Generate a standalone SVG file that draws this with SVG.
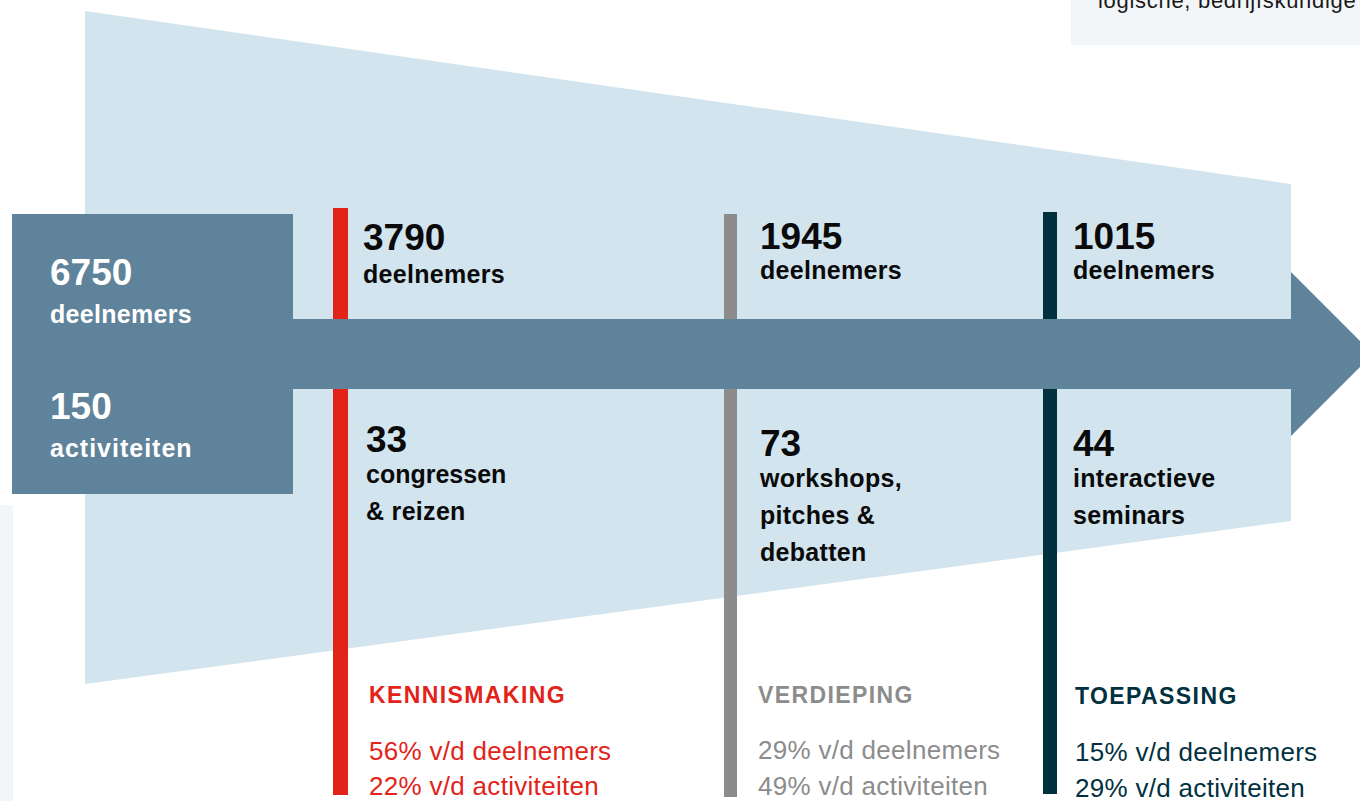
<svg xmlns="http://www.w3.org/2000/svg" width="1360" height="801" viewBox="0 0 1360 801">
<style>
text{font-family:"Liberation Sans",Arial,sans-serif}
.num{font-size:37px;font-weight:bold;fill:#0a0a0a}
.lbl{font-size:25px;font-weight:bold;fill:#0a0a0a;letter-spacing:0.3px}
.w{fill:#ffffff}
.ttl{font-size:23px;font-weight:bold;letter-spacing:1.4px}
.pct{font-size:26px;letter-spacing:0.3px}
.red{fill:#e2231a}
.gray{fill:#8c8c8c}
.dark{fill:#01313f}
</style>
<rect width="1360" height="801" fill="#ffffff"/>
<rect x="1071" y="0" width="289" height="45" fill="#f2f6f9"/>
<text x="1098" y="8" style="font-size:22px;fill:#1a1a1a;letter-spacing:0.7px">logische, bedrijfskundige</text>
<rect x="0" y="505" width="13" height="296" fill="#f2f6f9"/>
<polygon id="funnel" points="85,11 1291,184 1291,521 85,684" fill="#d2e4ee"/>

<g id="total">
<rect x="12" y="214" width="281" height="280" fill="#5f839b"/>
<text class="num w" x="50" y="285">6750</text>
<text class="lbl w" x="50" y="323">deelnemers</text>
<text class="num w" x="50" y="419">150</text>
<text class="lbl w" x="50" y="457" style="letter-spacing:1px">activiteiten</text>
</g>

<g id="kennismaking">
<rect x="333" y="208" width="15" height="587" class="red"/>
<text class="num" x="363" y="250">3790</text>
<text class="lbl" x="363" y="283">deelnemers</text>
<text class="num" x="366" y="452">33</text>
<text class="lbl" x="366" y="483" style="letter-spacing:0px">congressen</text>
<text class="lbl" x="366" y="520">&amp; reizen</text>
<text class="ttl red" x="369" y="703">KENNISMAKING</text>
<text class="pct red" x="369" y="760">56% v/d deelnemers</text>
<text class="pct red" x="369" y="795">22% v/d activiteiten</text>
</g>

<g id="verdieping">
<rect x="724" y="214" width="13" height="583" class="gray"/>
<text class="num" x="760" y="249">1945</text>
<text class="lbl" x="760" y="279">deelnemers</text>
<text class="num" x="760" y="456">73</text>
<text class="lbl" x="760" y="487">workshops,</text>
<text class="lbl" x="760" y="524">pitches &amp;</text>
<text class="lbl" x="760" y="561">debatten</text>
<text class="ttl gray" x="758" y="703">VERDIEPING</text>
<text class="pct gray" x="758" y="759">29% v/d deelnemers</text>
<text class="pct gray" x="758" y="795">49% v/d activiteiten</text>
</g>

<g id="toepassing">
<rect x="1043" y="212" width="14" height="582" class="dark"/>
<text class="num" x="1073" y="249">1015</text>
<text class="lbl" x="1073" y="279">deelnemers</text>
<text class="num" x="1073" y="456">44</text>
<text class="lbl" x="1073" y="487">interactieve</text>
<text class="lbl" x="1073" y="524">seminars</text>
<text class="ttl dark" x="1075" y="704">TOEPASSING</text>
<text class="pct dark" x="1075" y="761">15% v/d deelnemers</text>
<text class="pct dark" x="1075" y="797">29% v/d activiteiten</text>
</g>

<g id="connectors">
<polygon points="293,319 1291,319 1291,272 1373,354 1291,436 1291,389 293,389" fill="#5f839b"/>
</g>
</svg>
